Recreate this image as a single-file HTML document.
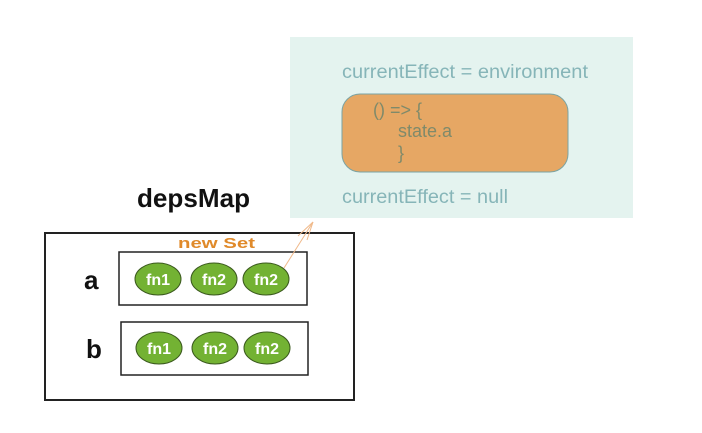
<!DOCTYPE html>
<html><head><style>
body{margin:0;width:702px;height:428px;background:#fff;overflow:hidden;font-family:"Liberation Sans",sans-serif}
</style></head><body>
<svg width="702" height="428" xmlns="http://www.w3.org/2000/svg">
<rect x="290" y="37" width="343" height="181" fill="#e4f3ef"/>
<text x="342" y="78" font-size="19" fill="#86b5b8" font-family="Liberation Sans" textLength="246" lengthAdjust="spacingAndGlyphs">currentEffect = environment</text>
<rect x="342" y="94" width="226" height="78" rx="18" fill="#e6a764" stroke="#7aa3a3" stroke-width="1"/>
<text font-size="18" fill="#7f8a6a" font-family="Liberation Sans"><tspan x="373" y="116">() =&gt; {</tspan><tspan x="398" y="137">state.a</tspan><tspan x="398" y="159">}</tspan></text>
<text x="342" y="203" font-size="19" fill="#86b5b8" font-family="Liberation Sans" textLength="166" lengthAdjust="spacingAndGlyphs">currentEffect = null</text>
<text x="137" y="207" font-size="26" font-weight="bold" fill="#111" font-family="Liberation Sans" textLength="113" lengthAdjust="spacingAndGlyphs">depsMap</text>
<rect x="45" y="233" width="309" height="167" fill="none" stroke="#222" stroke-width="2"/>
<text x="178" y="248" font-size="15" font-weight="bold" fill="#e08a2a" font-family="Liberation Sans" textLength="77" lengthAdjust="spacingAndGlyphs">new Set</text>
<text x="84" y="289" font-size="26" font-weight="bold" fill="#111" font-family="Liberation Sans">a</text>
<text x="86" y="358" font-size="26" font-weight="bold" fill="#111" font-family="Liberation Sans">b</text>
<rect x="119" y="252" width="188" height="53" fill="none" stroke="#222" stroke-width="1.5"/>
<rect x="121" y="322" width="187" height="53" fill="none" stroke="#222" stroke-width="1.5"/>
<g stroke="#3b5a1e" stroke-width="1" fill="#73b233">
<ellipse cx="158" cy="279" rx="23" ry="16"/><ellipse cx="214" cy="279" rx="23" ry="16"/><ellipse cx="266" cy="279" rx="23" ry="16"/>
<ellipse cx="159" cy="348" rx="23" ry="16"/><ellipse cx="215" cy="348" rx="23" ry="16"/><ellipse cx="267" cy="348" rx="23" ry="16"/>
</g>
<g font-size="16" font-weight="bold" fill="#fff" text-anchor="middle" font-family="Liberation Sans">
<text x="158" y="285">fn1</text><text x="214" y="285">fn2</text><text x="266" y="285">fn2</text>
<text x="159" y="354">fn1</text><text x="215" y="354">fn2</text><text x="267" y="354">fn2</text>
</g>
<g stroke="#f0b98a" stroke-width="1" fill="none">
<path d="M284 268 L313 222"/><path d="M313 222 L298 236 M313 222 L307 240"/>
</g>
</svg>
</body></html>
